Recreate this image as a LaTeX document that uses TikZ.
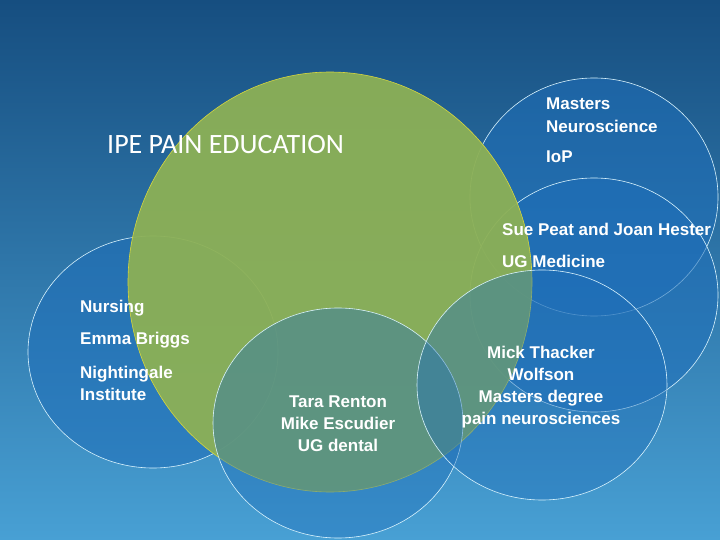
\documentclass[tikz,border=0pt]{standalone}
\usepackage{fontspec}
\setmainfont{Liberation Sans}
\newfontfamily\titlefont{Carlito}
\usetikzlibrary{positioning}
\definecolor{deepsea}{RGB}{22,78,128}
\definecolor{skyblue}{RGB}{72,160,212}
\definecolor{ringblue}{RGB}{30,110,185}
\definecolor{olive}{RGB}{140,176,86}

\begin{document}
\begin{tikzpicture}[x=1pt,y=-1pt]
	% Frame and background.
	\useasboundingbox (0,0) rectangle (720,540);
	\clip (0,0) rectangle (720,540);
	\shade[top color=deepsea, bottom color=skyblue] (0,0) rectangle (720,540);

	\tikzset{ring/.style={draw=white!85!cyan, line width=0.6pt, fill=ringblue, fill opacity=0.55},
		label text/.style={text=white, font=\bfseries\fontsize{17}{22}\selectfont, inner sep=0pt},
		block text/.style={label text, align=center}}

	% Rings behind the big circle.
	\draw[ring] (153,352) ellipse (125 and 116);
	\draw[ring] (594,197) ellipse (124 and 119);
	\draw[ring] (594,295) ellipse (124 and 117);
	% The big circle.
	\fill[olive, opacity=0.95] (330,282) ellipse (202 and 210);
	\draw[yellow!60!olive, line width=0.6pt] (330,282) ellipse (202 and 210);
	% Rings in front.
	\draw[ring, fill opacity=0.4] (338,423) ellipse (125 and 115);
	\draw[ring, fill opacity=0.4] (542,385) ellipse (125 and 115);

	% Title.
	\node[anchor=west, text=white, font=\titlefont\fontsize{28}{32}\selectfont, inner sep=0pt] (title) at (107,145) {IPE PAIN EDUCATION};

	% Labels.
	\node[label text, anchor=west] (masters) at (546,104) {Masters};
	\node[label text, anchor=west] (neuro) at (546,126) {Neuroscience};
	\node[label text, anchor=west] (iop) at (546,157) {IoP};
	\node[label text, anchor=west] (sue) at (502,229) {Sue Peat and Joan Hester};
	\node[label text, anchor=west] (ugmed) at (502,261) {UG Medicine};
	\node[label text, anchor=west] (nursing) at (80,308) {Nursing};
	\node[label text, anchor=west] (emma) at (80,340) {Emma Briggs};
	\node[label text, anchor=west, align=left] (night) at (80,383) {Nightingale\\Institute};
	\node[block text] (tara) at (338,424) {Tara Renton\\Mike Escudier\\UG dental};
	\node[block text] (mick) at (541,387) {Mick Thacker\\Wolfson\\Masters degree\\pain neurosciences};
\end{tikzpicture}
\end{document}
